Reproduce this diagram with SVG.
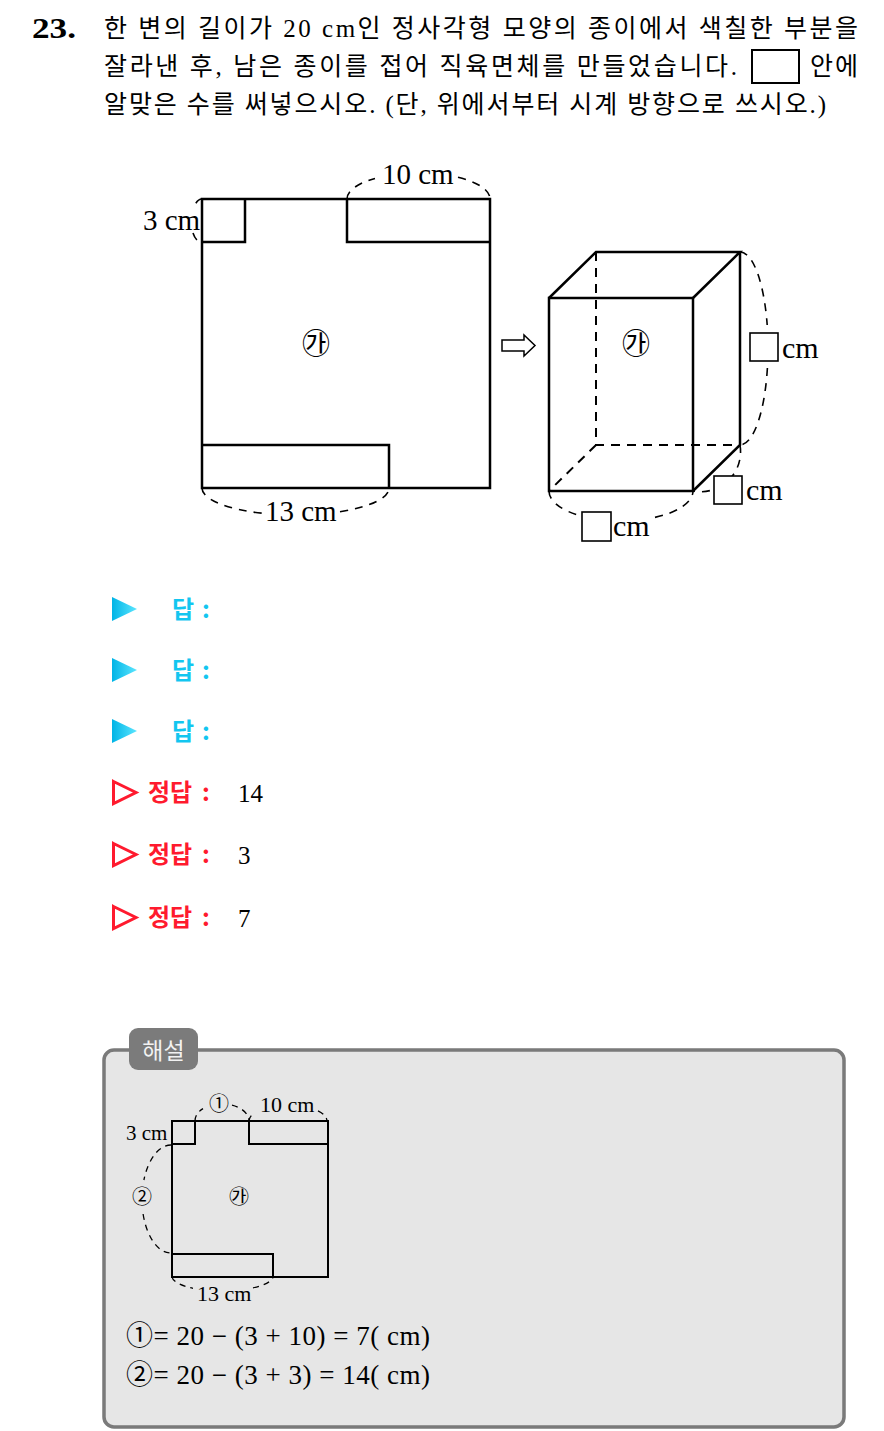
<svg xmlns="http://www.w3.org/2000/svg" width="884" height="1431" viewBox="0 0 884 1431">
<defs>
<linearGradient id="cy" x1="0" y1="0" x2="1" y2="0">
<stop offset="0" stop-color="#00b4e6"/>
<stop offset="1" stop-color="#5ce6ff"/>
</linearGradient>
</defs>
<style>
.kr{font-family:"Liberation Serif","Noto Sans CJK KR",serif;fill:#000}
.q{font-size:25px}
.ser{font-family:"Liberation Serif",serif;fill:#000}
.cjk{font-family:"Noto Sans CJK KR",sans-serif}
.ln{fill:none;stroke:#000;stroke-width:2.5}
.ln2{fill:none;stroke:#000;stroke-width:2}
.hid{fill:none;stroke:#000;stroke-width:2;stroke-dasharray:9 7}
.dim{fill:none;stroke:#000;stroke-width:1.6;stroke-dasharray:8 7}
.dim2{fill:none;stroke:#000;stroke-width:1.3;stroke-dasharray:6 5}
.lbl{font-size:29px}
.lbox{fill:#fff;stroke:#000;stroke-width:1.6}
.ans{font-family:"Noto Sans CJK KR",sans-serif;font-weight:bold;font-size:24px}
.cyan{fill:#12c6f0}
.red{fill:#ff1a2e}
</style>

<g id="question">
<text x="32" y="38" class="ser" font-size="30" font-weight="bold" textLength="44" lengthAdjust="spacingAndGlyphs">23.</text>
<text x="104" y="37" class="kr q" textLength="754" lengthAdjust="spacing">한 변의 길이가 20 cm인 정사각형 모양의 종이에서 색칠한 부분을</text>
<text x="104" y="75" class="kr q" textLength="633" lengthAdjust="spacing">잘라낸 후, 남은 종이를 접어 직육면체를 만들었습니다.</text>
<rect x="752" y="50" width="47" height="33" fill="none" stroke="#000" stroke-width="2"/>
<text x="810" y="75" class="kr q" textLength="48" lengthAdjust="spacing">안에</text>
<text x="104" y="113" class="kr q" textLength="722" lengthAdjust="spacing">알맞은 수를 써넣으시오. (단, 위에서부터 시계 방향으로 쓰시오.)</text>
</g>

<g id="net">
<rect x="202" y="199" width="288" height="289" class="ln"/>
<path d="M202,242 H245 V199" class="ln"/>
<path d="M347,199 V242 H490" class="ln"/>
<path d="M202,445 H389 V488" class="ln"/>
<text x="316" y="354" class="cjk" font-size="28" text-anchor="middle">㉮</text>
</g>

<g id="net-labels">
<text x="143" y="230" class="ser lbl">3 cm</text>
<text x="382" y="184" class="ser lbl">10 cm</text>
<text x="265" y="521" class="ser lbl">13 cm</text>
</g>

<g id="arrow">
<polygon points="502,340 524,340 524,335 535,345.5 524,356 524,351 502,351" fill="#fff" stroke="#000" stroke-width="1.5"/>
</g>

<g id="cuboid">
<path d="M596,252 V445 H740 M596,445 L549,491" class="hid"/>
<rect x="549" y="298" width="144" height="193" class="ln"/>
<path d="M549,298 L596,252 H740 L693,298 M740,252 V445 L693,491" class="ln"/>
<text x="636" y="354" class="cjk" font-size="28" text-anchor="middle">㉮</text>
</g>

<g id="connectors">
<path d="M347,199 A71.5,26 0 0,1 375,178.4 M458,177.3 A71.5,26 0 0,1 490,199" class="dim"/>
<path d="M202,199 A10,21.5 0 0,0 194,207 M193,233 A10,21.5 0 0,0 202,242" class="dim"/>
<path d="M202,488 A93.5,27 0 0,0 262,513.2 M340,511.7 A93.5,27 0 0,0 389,488" class="dim"/>
<path d="M740,252 A28,96.5 0 0,1 767.2,325 M767.4,368 A28,96.5 0 0,1 740,445" class="dim"/>
<path d="M740,445 A40,40 0 0,1 693,491" class="dim"/>
<path d="M549,491 A72,30 0 0,0 578,515.1 M655,517.4 A72,30 0 0,0 693,491" class="dim"/>
</g>

<g id="cuboid-labels">
<rect x="750" y="333" width="28" height="28" class="lbox"/>
<text x="782" y="358" class="ser" font-size="30">cm</text>
<rect x="714" y="476" width="28" height="28" class="lbox"/>
<text x="746" y="500" class="ser" font-size="30">cm</text>
<rect x="582" y="512" width="29" height="29" class="lbox"/>
<text x="613" y="536" class="ser" font-size="30">cm</text>
</g>

<g id="answers">
<polygon points="112,597 137,609 112,621" fill="url(#cy)"/>
<text y="618" class="ans cyan"><tspan x="172">답</tspan><tspan x="202">:</tspan></text>
<polygon points="112,658 137,670 112,682" fill="url(#cy)"/>
<text y="679" class="ans cyan"><tspan x="172">답</tspan><tspan x="202">:</tspan></text>
<polygon points="112,719 137,731 112,743" fill="url(#cy)"/>
<text y="740" class="ans cyan"><tspan x="172">답</tspan><tspan x="202">:</tspan></text>

<polygon points="113.5,781.5 136,792.5 113.5,803.5" fill="none" stroke="#ff1a2e" stroke-width="3"/>
<text y="801" class="ans red"><tspan x="148">정답</tspan><tspan x="202">:</tspan></text>
<text x="238" y="802" class="ser" font-size="25">14</text>
<polygon points="113.5,843.5 136,854.5 113.5,865.5" fill="none" stroke="#ff1a2e" stroke-width="3"/>
<text y="863" class="ans red"><tspan x="148">정답</tspan><tspan x="202">:</tspan></text>
<text x="238" y="864" class="ser" font-size="25">3</text>
<polygon points="113.5,906.5 136,917.5 113.5,928.5" fill="none" stroke="#ff1a2e" stroke-width="3"/>
<text y="926" class="ans red"><tspan x="148">정답</tspan><tspan x="202">:</tspan></text>
<text x="238" y="927" class="ser" font-size="25">7</text>
</g>

<g id="explanation">
<rect x="104" y="1050" width="740" height="377" rx="10" fill="#e6e6e6" stroke="#7a7a7a" stroke-width="3.5"/>
<rect x="129" y="1028" width="69" height="42" rx="9" fill="#7b7b7b"/>
<text x="163.5" y="1059" class="cjk" font-size="23" fill="#f2f2f2" text-anchor="middle">해설</text>

<g id="exp-net">
<rect x="172" y="1121" width="156" height="156" class="ln2"/>
<path d="M172,1144 H195 V1121" class="ln2"/>
<path d="M249,1121 V1144 H328" class="ln2"/>
<path d="M172,1254 H273 V1277" class="ln2"/>
<text x="239" y="1204" class="cjk" font-size="20" text-anchor="middle">㉮</text>
</g>
<g id="exp-connectors">
<path d="M195,1121 A27,17 0 0,1 203,1108.6 M232,1105.2 A27,17 0 0,1 249,1121" class="dim2"/>
<path d="M249,1121 A39,16 0 0,1 253,1114 M318,1110.8 A39,16 0 0,1 327,1121" class="dim2"/>
<path d="M171,1145 A29,54 0 0,0 143.9,1180 M143.1,1214 A29,54 0 0,0 171,1253" class="dim2"/>
<path d="M172,1277 A51,15 0 0,0 193,1288.3 M253,1287.9 A51,15 0 0,0 273,1277" class="dim2"/>
</g>
<g id="exp-labels">
<text x="126" y="1140" class="ser" font-size="21">3 cm</text>
<text x="260" y="1112" class="ser" font-size="22">10 cm</text>
<text x="197" y="1301" class="ser" font-size="22">13 cm</text>
<text x="219" y="1111" class="cjk" font-size="20" text-anchor="middle">①</text>
<text x="142" y="1204" class="cjk" font-size="20" text-anchor="middle">②</text>
</g>
<text x="126" y="1345" class="kr" font-size="27" textLength="304" lengthAdjust="spacing">①= 20 − (3 + 10) = 7( cm)</text>
<text x="126" y="1384" class="kr" font-size="27" textLength="304" lengthAdjust="spacing">②= 20 − (3 + 3) = 14( cm)</text>
</g>
</svg>
